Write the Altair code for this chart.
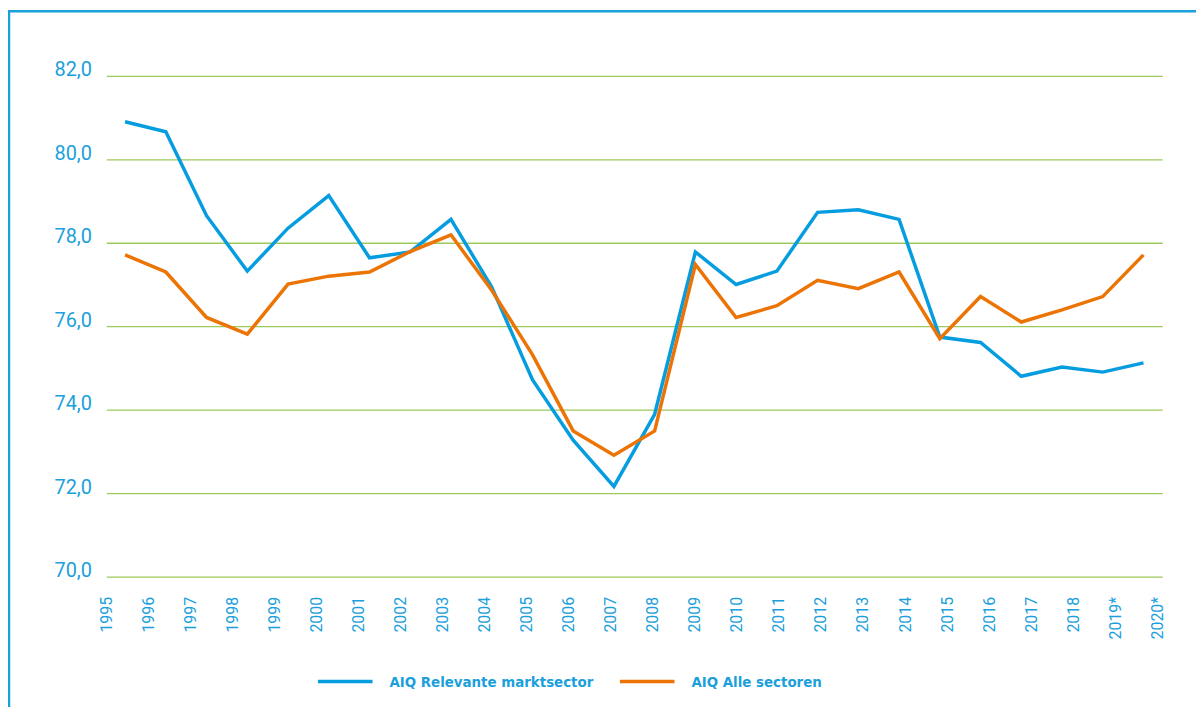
import altair as alt
import pandas as pd

years = ["1995", "1996", "1997", "1998", "1999", "2000", "2001", "2002", "2003", "2004",
         "2005", "2006", "2007", "2008", "2009", "2010", "2011", "2012", "2013", "2014",
         "2015", "2016", "2017", "2018", "2019*", "2020*"]
relevante = [80.9, 80.66, 78.65, 77.32, 78.35, 79.13, 77.64, 77.78, 78.56, 76.94,
             74.72, 73.27, 72.16, 73.89, 77.78, 77.0, 77.32, 78.73, 78.79, 78.56,
             75.74, 75.61, 74.8, 75.02, 74.9, 75.12]
alle = [77.71, 77.3, 76.21, 75.81, 77.01, 77.2, 77.3, 77.79, 78.19, 76.86,
        75.32, 73.49, 72.91, 73.49, 77.48, 76.21, 76.49, 77.1, 76.9, 77.3,
        75.7, 76.71, 76.1, 76.39, 76.71, 77.71]
series_names = ["AIQ Relevante marktsector", "AIQ Alle sectoren"]
colors = ["#059de0", "#ec7405"]
y_ticks = [70, 72, 74, 76, 78, 80, 82]

TEXT_BLUE = "#1ba0dc"
GRID_GREEN = "#9cc95a"

rows = []
for name, vals in zip(series_names, [relevante, alle]):
    for yr, v in zip(years, vals):
        rows.append({"jaar": yr, "waarde": v, "reeks": name})
df = pd.DataFrame(rows)

y_scale = alt.Scale(domain=[70, 82], nice=False, zero=False)
y_axis = alt.Axis(values=y_ticks, title=None,
                  labelExpr="replace(format(datum.value, '.1f'), '.', ',')",
                  labelFont="Roboto", labelFontSize=20, labelColor=TEXT_BLUE,
                  labelPadding=15, labelBaseline="alphabetic",
                  grid=True, gridColor=GRID_GREEN, gridWidth=1.3,
                  domain=False, ticks=False, tickSize=0)

lines = alt.Chart(df).mark_line(strokeWidth=3.5, strokeJoin="miter").encode(
    x=alt.X("jaar:O", sort=years, scale=alt.Scale(type="point", padding=0.46), axis=None),
    y=alt.Y("waarde:Q", scale=y_scale, axis=y_axis),
    color=alt.Color("reeks:N", sort=series_names,
                    scale=alt.Scale(domain=series_names, range=colors),
                    legend=alt.Legend(title=None, orient="none", legendX=211, legendY=580,
                                      direction="horizontal", symbolType="stroke",
                                      symbolSize=3025, symbolStrokeWidth=3.5,
                                      labelFont="DejaVu Sans Condensed", labelFontSize=15,
                                      labelFontWeight="bold", labelColor=TEXT_BLUE,
                                      labelOffset=15, labelLimit=400, columnPadding=19)),
)

axis_layer = alt.Chart(df).mark_point(opacity=0).encode(
    x=alt.X("jaar:O", sort=years, title=None,
            scale=alt.Scale(type="point", padding=0, range=[0, 1058]),
            axis=alt.Axis(orient="bottom", labelAngle=270, labelAlign="right",
                          labelBaseline="middle", labelFont="Roboto", labelFontSize=16,
                          labelColor=TEXT_BLUE, labelPadding=20, ticks=False, tickSize=0,
                          domain=False, grid=False)),
    y=alt.Y("waarde:Q", scale=y_scale, axis=y_axis),
)

dummy = alt.Data(values=[{"k": 0}])
frame_left = alt.Chart(dummy).mark_rule(color=TEXT_BLUE, strokeWidth=2.5).encode(
    x=alt.value(-98), y=alt.value(-66), y2=alt.value(640))
frame_top = alt.Chart(dummy).mark_rule(color=TEXT_BLUE, strokeWidth=2.5).encode(
    x=alt.value(-99), x2=alt.value(1100), y=alt.value(-65))

chart = alt.layer(frame_left, frame_top, lines, axis_layer).resolve_scale(
    x="independent"
).properties(
    width=1063, height=504,
    autosize=alt.AutoSizeParams(type="none"),
    padding={"left": 99, "top": 66, "right": 34, "bottom": 129},
).configure_view(strokeWidth=0)

chart.save("out.html", embed_options={"renderer": "svg", "actions": False})
